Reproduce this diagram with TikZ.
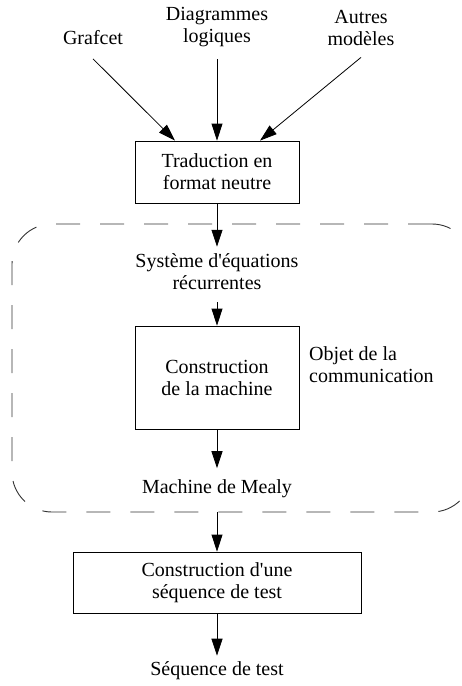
\documentclass[tikz,border=0pt]{standalone}
\usepackage{fontspec}
\setmainfont{Liberation Serif}
\usetikzlibrary{arrows.meta}

\begin{document}
\begin{tikzpicture}[
        x=1pt, y=-1pt,
        every node/.style={font=\fontsize{20}{22}\selectfont, align=center},
        box/.style={draw, line width=0.8pt, minimum width=164pt, inner sep=0pt},
        txt/.style={inner xsep=0pt, inner ysep=10pt},
        forward/.style={-{Triangle[length=17pt,width=11pt]}, line width=0.8pt},
        frame/.style={draw=black!80, dash pattern=on 24pt off 20pt, line width=0.9pt,
            rounded corners=40pt, minimum width=460pt, minimum height=288pt}
    ]
        \useasboundingbox (0,0) rectangle (462,686);
        \node[frame] (frame) at (242,368) {};
        % sources
        \node[txt, inner ysep=14pt] (grafcet) at (93,37.5) {Grafcet};
        \node[txt, inner ysep=12pt] (diag) at (217,27.5) {Diagrammes\\logiques};
        \node[txt, inner ysep=12pt] (autres) at (361,27.5) {Autres\\modèles};
        \node[box, minimum height=62pt] (trad) at (217,172) {Traduction en\\format neutre};
        \draw[forward] (grafcet.south) -- ([xshift=-42pt]trad.north);
        \draw[forward] (diag.south) -- (trad.north);
        \draw[forward] (autres.south) -- ([xshift=43pt]trad.north);
        % inside the frame
        \node[txt, inner ysep=7pt] (sys) at (217,272) {Système d\textquotesingle équations\\récurrentes};
        \draw[forward] (trad.south) -- (sys.north);
        \node[box, minimum height=103pt] (constr) at (217,377.5) {Construction\\de la machine};
        \draw[forward, shorten <=5pt] (sys.south) -- (constr.north);
        \node[txt, anchor=west, align=left] (objet) at (309,365) {Objet de la\\communication};
        \node[txt, inner ysep=11pt] (mealy) at (217,488.5) {Machine de Mealy};
        \draw[forward] (constr.south) -- (mealy.north);
        % test sequence
        \node[box, minimum width=288pt, minimum height=61pt] (seqbox) at (217,582.5) {Construction d\textquotesingle une\\séquence de test};
        \draw[forward] (seqbox.north |- frame.south) -- (seqbox.north);
        \node[txt, inner ysep=6pt] (seq) at (217,671) {Séquence de test};
        \draw[forward] (seqbox.south) -- (seq.north);
\end{tikzpicture}
\end{document}
